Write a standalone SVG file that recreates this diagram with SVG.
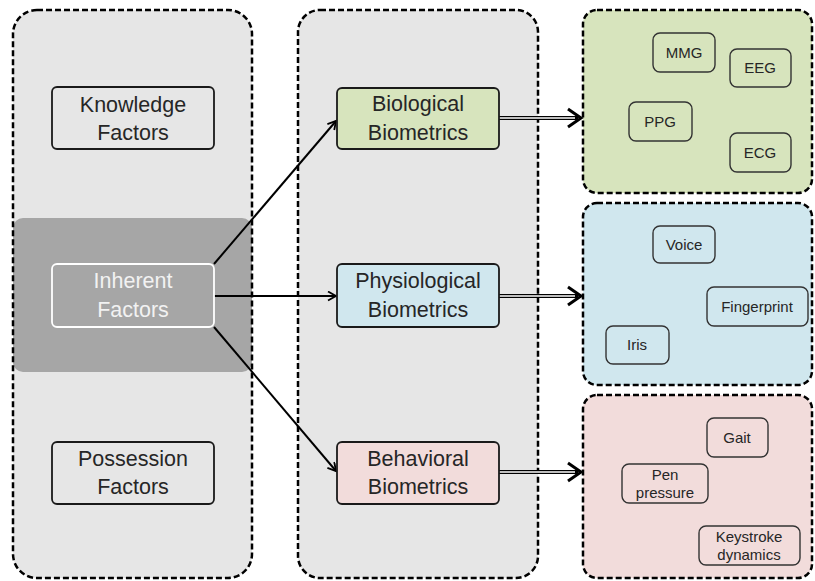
<svg xmlns="http://www.w3.org/2000/svg" width="815" height="581" viewBox="0 0 815 581">
<defs>
<style>
.panel{stroke:none}
.dash{fill:none;stroke:#000;stroke-width:2.5;stroke-dasharray:6 3}
.box{stroke:#1a1a1a;stroke-width:1.8}
.t{font-family:"Liberation Sans",Arial,sans-serif;font-size:21.5px;fill:#262626;text-anchor:middle}
.s{font-family:"Liberation Sans",Arial,sans-serif;font-size:15px;fill:#262626;text-anchor:middle}
.ib{stroke:#333;stroke-width:1.4}
.conn{stroke:#000;stroke-width:2;fill:none}
</style>
<marker id="ah" markerWidth="12" markerHeight="12" refX="9" refY="5" orient="auto" markerUnits="userSpaceOnUse">
<path d="M1,0.5 L9,5 L1,9.5" fill="none" stroke="#000" stroke-width="1.8"/>
</marker>
</defs>
<rect width="815" height="581" fill="#fff"/>

<g id="panel-factors">
<rect class="panel" x="13" y="10" width="239" height="568" rx="24" fill="#e6e6e6"/>
<rect x="13" y="218" width="239" height="154" rx="10" fill="#a6a6a6"/>
<rect class="dash" x="13" y="10" width="239" height="568" rx="24"/>
</g>
<g id="panel-biometrics">
<rect class="panel" x="298" y="10" width="240" height="568" rx="22" fill="#e6e6e6"/>
<rect class="dash" x="298" y="10" width="240" height="568" rx="22"/>
</g>
<g id="panel-biological">
<rect x="583" y="10" width="229" height="183" rx="14" fill="#d7e4bd"/>
<rect class="dash" x="583" y="10" width="229" height="183" rx="14"/>
</g>
<g id="panel-physiological">
<rect x="583" y="203" width="229" height="182" rx="14" fill="#d0e7ee"/>
<rect class="dash" x="583" y="203" width="229" height="182" rx="14"/>
</g>
<g id="panel-behavioral">
<rect x="583" y="395" width="229" height="183" rx="14" fill="#f2dcdb"/>
<rect class="dash" x="583" y="395" width="229" height="183" rx="14"/>
</g>

<g id="connectors">
<line class="conn" x1="214" y1="264" x2="336" y2="121" marker-end="url(#ah)"/>
<line class="conn" x1="214" y1="296" x2="336" y2="296" marker-end="url(#ah)"/>
<line class="conn" x1="214" y1="327" x2="336" y2="471" marker-end="url(#ah)"/>
<g>
<line x1="499" y1="118" x2="578" y2="118" stroke="#000" stroke-width="4"/>
<line x1="499" y1="118" x2="575" y2="118" stroke="#fff" stroke-width="1.3"/>
<path d="M568,109 L581,118 L568,127" fill="none" stroke="#000" stroke-width="3"/>
</g>
<g>
<line x1="499" y1="296" x2="578" y2="296" stroke="#000" stroke-width="4"/>
<line x1="499" y1="296" x2="575" y2="296" stroke="#fff" stroke-width="1.3"/>
<path d="M568,287 L581,296 L568,305" fill="none" stroke="#000" stroke-width="3"/>
</g>
<g>
<line x1="499" y1="472" x2="578" y2="472" stroke="#000" stroke-width="4"/>
<line x1="499" y1="472" x2="575" y2="472" stroke="#fff" stroke-width="1.3"/>
<path d="M568,463 L581,472 L568,481" fill="none" stroke="#000" stroke-width="3"/>
</g>
</g>

<g id="knowledge">
<rect class="box" x="52" y="87" width="162" height="62" rx="5" fill="none"/>
<text class="t" x="133" y="112">Knowledge</text>
<text class="t" x="133" y="140">Factors</text>
</g>
<g id="inherent">
<rect x="52" y="264" width="162" height="63" rx="5" fill="none" stroke="#fff" stroke-width="1.8"/>
<text class="t" x="133" y="288" style="fill:#f2f2f2">Inherent</text>
<text class="t" x="133" y="317" style="fill:#f2f2f2">Factors</text>
</g>
<g id="possession">
<rect class="box" x="52" y="442" width="162" height="62" rx="5" fill="none"/>
<text class="t" x="133" y="466">Possession</text>
<text class="t" x="133" y="494">Factors</text>
</g>

<g id="biological">
<rect class="box" x="337" y="88" width="162" height="61" rx="5" fill="#d7e4bd"/>
<text class="t" x="418" y="111">Biological</text>
<text class="t" x="418" y="140">Biometrics</text>
</g>
<g id="physiological">
<rect class="box" x="337" y="264" width="162" height="63" rx="5" fill="#d0e7ee"/>
<text class="t" x="418" y="288">Physiological</text>
<text class="t" x="418" y="317">Biometrics</text>
</g>
<g id="behavioral">
<rect class="box" x="337" y="442" width="162" height="62" rx="5" fill="#f2dcdb"/>
<text class="t" x="418" y="466">Behavioral</text>
<text class="t" x="418" y="494">Biometrics</text>
</g>

<g id="mmg"><rect class="ib" x="653" y="33" width="62" height="39" rx="7" fill="none"/><text class="s" x="684" y="58">MMG</text></g>
<g id="eeg"><rect class="ib" x="730" y="49" width="61" height="38" rx="7" fill="none"/><text class="s" x="760" y="73">EEG</text></g>
<g id="ppg"><rect class="ib" x="629" y="102" width="63" height="39" rx="7" fill="none"/><text class="s" x="660" y="127">PPG</text></g>
<g id="ecg"><rect class="ib" x="730" y="133" width="61" height="39" rx="7" fill="none"/><text class="s" x="760" y="158">ECG</text></g>

<g id="voice"><rect class="ib" x="653" y="226" width="62" height="37" rx="7" fill="none"/><text class="s" x="684" y="250">Voice</text></g>
<g id="fingerprint"><rect class="ib" x="707" y="287" width="101" height="39" rx="7" fill="none"/><text class="s" x="757" y="312">Fingerprint</text></g>
<g id="iris"><rect class="ib" x="606" y="326" width="63" height="38" rx="7" fill="none"/><text class="s" x="637" y="350">Iris</text></g>

<g id="gait"><rect class="ib" x="707" y="418" width="61" height="39" rx="7" fill="none"/><text class="s" x="737" y="443">Gait</text></g>
<g id="pen"><rect class="ib" x="622" y="464" width="86" height="39" rx="7" fill="none"/><text class="s" x="665" y="480">Pen</text><text class="s" x="665" y="498">pressure</text></g>
<g id="keystroke"><rect class="ib" x="699" y="526" width="101" height="39" rx="7" fill="none"/><text class="s" x="749" y="542">Keystroke</text><text class="s" x="749" y="560">dynamics</text></g>
</svg>
